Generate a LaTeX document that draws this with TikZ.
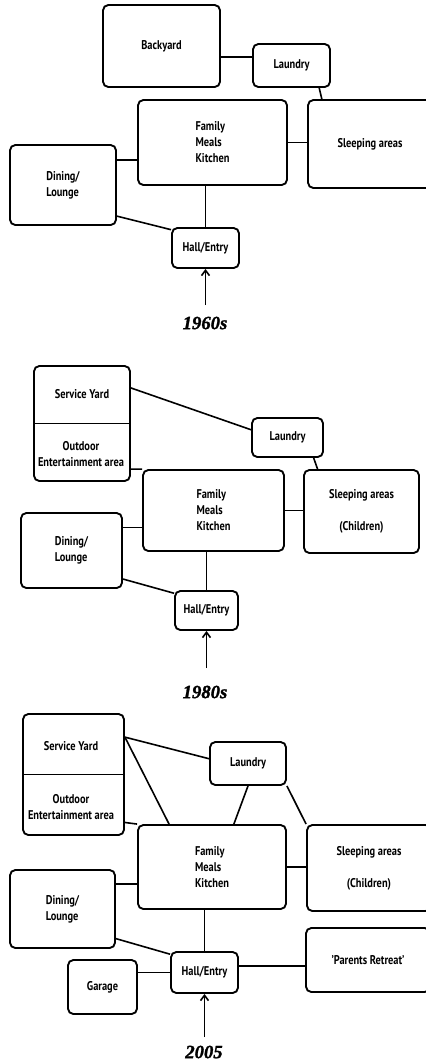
\documentclass[tikz,border=0pt]{standalone}
\usepackage{fontspec}
\setmainfont{PT Sans}[FakeStretch=0.82]
\newfontfamily\yearfont{Liberation Serif}[FakeBold=1.5]
\usetikzlibrary{arrows.meta, positioning, calc}

\begin{document}
\begin{tikzpicture}[
    x=0.75pt, y=-0.75pt,
    room/.style={draw, rounded corners=4pt, line width=1.4pt, inner sep=0pt, align=left, font=\bfseries\fontsize{9.5}{12}\selectfont},
    roomtext/.style={inner sep=0pt, align=center, font=\bfseries\fontsize{9.5}{12}\selectfont},
    link/.style={line width=1.2pt},
    entry/.style={-{Straight Barb[length=4pt, width=6pt]}, line width=1.2pt},
    year/.style={font=\yearfont\bfseries\itshape\fontsize{14}{16}\selectfont}
  ]
  \useasboundingbox (0,0) rectangle (425,1060);

  % 1960s
  \node[room, minimum width=87.75pt, minimum height=61.5pt] (backyard) at (161.5,46) {Backyard};
  \node[room, minimum width=57.75pt, minimum height=32.25pt] (laundryA) at (291.5,65.5) {Laundry};
  \node[room, minimum width=111.75pt, minimum height=63.75pt] (kitchenA) at (212.5,142.5) {Family\\Meals\\Kitchen};
  \node[room, minimum width=93pt, minimum height=66pt] (sleepA) at (370,144) {Sleeping areas};
  \node[room, minimum width=79.5pt, minimum height=60pt] (diningA) at (63,185) {Dining/\\Lounge};
  \node[room, minimum width=50.25pt, minimum height=30pt] (hallA) at (205.5,248) {Hall/Entry};
  \coordinate (inA) at (205.5,305);
  \node[year] (yearA) at (205,323) {1960s};

  \draw[link] (backyard.east |- laundryA.168) -- (laundryA.168);
  \draw[link] (laundryA.-39) -- (sleepA.137);
  \draw[link] (kitchenA.east) -- (kitchenA.east -| sleepA.west);
  \draw[link] (diningA.25) -- (diningA.25 -| kitchenA.west);
  \draw[link] (hallA.north) -- (hallA.north |- kitchenA.south);
  \draw[link] (diningA.-30) -- (hallA.152);
  \draw[entry] (inA) -- (hallA.south);

  % 1980s
  \node[room, minimum width=72pt, minimum height=86.25pt] (yardB) at (82,423.5) {};
  \draw[line width=1.4pt] (yardB.west) -- (yardB.east);
  \node[roomtext] (serviceB) at (82,394) {Service Yard};
  \node[roomtext] (outdoorB) at (81,454) {Outdoor\\Entertainment area};
  \node[room, minimum width=53.25pt, minimum height=29.25pt] (laundryB) at (287.5,437.5) {Laundry};
  \node[room, minimum width=105.75pt, minimum height=60.75pt] (kitchenB) at (213.5,510.5) {Family\\Meals\\Kitchen};
  \node[room, align=center, minimum width=86.25pt, minimum height=62.25pt] (sleepB) at (361.5,511.5) {Sleeping areas\\[12pt](Children)};
  \node[room, minimum width=75.75pt, minimum height=56.25pt] (diningB) at (71.5,550.5) {Dining/\\Lounge};
  \node[room, minimum width=47.25pt, minimum height=29.25pt] (hallB) at (206.5,610.5) {Hall/Entry};
  \coordinate (inB) at (206.5,668);
  \node[year] (yearB) at (205,692) {1980s};

  \draw[link] (yardB.36) -- (laundryB.168);
  \draw[link] (laundryB.-38) -- (sleepB.136);
  \draw[link] (kitchenB.east) -- (kitchenB.east -| sleepB.west);
  \draw[link] (yardB.-43) -- (kitchenB.north west);
  \draw[link] (diningB.24) -- (diningB.24 -| kitchenB.west);
  \draw[link] (hallB.north) -- (hallB.north |- kitchenB.south);
  \draw[link] (diningB.-29) -- (hallB.152);
  \draw[entry] (inB) -- (hallB.south);

  % 2005
  \node[room, minimum width=75.75pt, minimum height=90.75pt] (yardC) at (73.5,774.5) {};
  \draw[line width=1.4pt] (yardC.west) -- (yardC.east);
  \node[roomtext] (serviceC) at (71,746) {Service Yard};
  \node[roomtext] (outdoorC) at (71,807.5) {Outdoor\\Entertainment area};
  \node[room, minimum width=57pt, minimum height=32.25pt] (laundryC) at (248,763.5) {Laundry};
  \node[room, minimum width=111pt, minimum height=63pt] (kitchenC) at (212,867) {Family\\Meals\\Kitchen};
  \node[room, align=center, minimum width=93pt, minimum height=64.5pt] (sleepC) at (369,868) {Sleeping areas\\[12pt](Children)};
  \node[room, minimum width=78.75pt, minimum height=58.5pt] (diningC) at (62.5,909) {Dining/\\Lounge};
  \node[room, minimum width=50.25pt, minimum height=30.75pt] (hallC) at (204.5,972.5) {Hall/Entry};
  \node[room, minimum width=51.75pt, minimum height=40.5pt] (garageC) at (102.5,987) {Garage};
  \node[room, minimum width=93pt, minimum height=48pt] (retreatC) at (368,960) {'Parents Retreat'};
  \coordinate (inC) at (204.5,1037);
  \node[year] (yearC) at (204,1052) {2005};

  \draw[link] (yardC.36) -- (laundryC.173);
  \draw[link] (yardC.36) -- (kitchenC.135);
  \draw[link] (laundryC.south) -- (kitchenC.63);
  \draw[link] (laundryC.south east) -- (sleepC.north west);
  \draw[link] (kitchenC.east) -- (kitchenC.east -| sleepC.west);
  \draw[link] (yardC.-43) -- (kitchenC.north west);
  \draw[link] (diningC.25) -- (diningC.25 -| kitchenC.west);
  \draw[link] (hallC.north) -- (hallC.north |- kitchenC.south);
  \draw[link] (diningC.-29) -- (hallC.152);
  \draw[link] (garageC.east |- hallC.west) -- (hallC.west);
  \draw[link] (hallC.11) -- (hallC.11 -| retreatC.west);
  \draw[entry] (inC) -- (hallC.south);

\end{tikzpicture}
\end{document}
